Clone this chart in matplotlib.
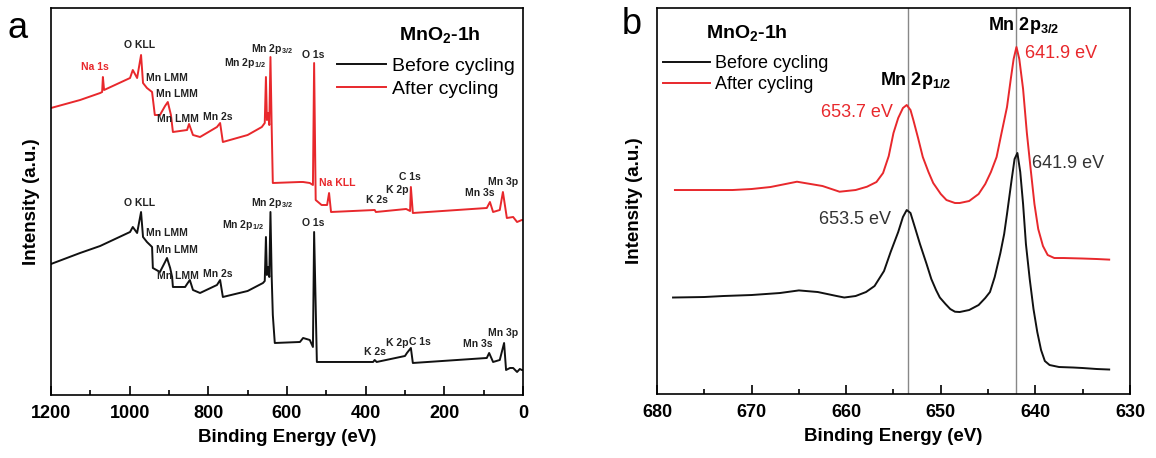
import matplotlib
matplotlib.use('Agg')
import matplotlib.pyplot as plt
from matplotlib.ticker import MultipleLocator

plt.rcParams['font.family'] = ['Liberation Sans', 'DejaVu Sans']
plt.rcParams['mathtext.default'] = 'regular'

RED = '#e8282c'
BLK = '#111111'

# ---- panel a: survey spectra (binding energy eV, intensity a.u.) ----
survey_before_e = [1200, 1126, 1075, 999, 992, 981, 971, 966, 956, 943, 941, 923, 910, 905,
                   897, 892, 890, 859, 854, 847, 839, 821, 778, 770, 763, 700, 661, 656.5,
                   653.5, 651, 648, 645, 642, 639, 636, 631, 567, 559, 542, 534, 531, 524,
                   381, 377, 372, 300, 295, 285, 280, 92, 86, 76, 59, 48, 43, 33, 25, 15, 8, 3, 0]
survey_before_i = [131, 142, 149, 163, 168, 162, 183, 158, 153, 148, 127, 123, 133, 137,
                   127, 118, 108, 108, 111, 115, 105, 102, 110, 115, 98, 104, 112, 114,
                   158, 120, 128, 118, 183, 120, 80, 52, 53, 57, 55, 48, 163, 33,
                   33, 35, 33, 39, 42, 47, 32, 37, 42, 33, 35, 52, 25, 27, 27, 23, 26, 25, 25]

survey_after_e = [1200, 1126, 1075, 1070, 1068, 1065, 999, 992, 981, 971, 966, 956, 943, 936,
                  923, 910, 903, 895, 890, 854, 849, 839, 821, 778, 770, 763, 700, 664, 656.5,
                  653.5, 651, 648, 645, 642, 639, 636, 567, 559, 542, 534, 531, 527, 512,
                  498, 493, 488, 377, 374, 297, 287, 285, 280, 92, 84, 76, 59, 51, 41, 25,
                  15, 3, 0]
survey_after_i = [287, 295, 302, 303, 318, 305, 317, 325, 317, 340, 312, 307, 303, 280,
                  280, 289, 293, 280, 263, 265, 271, 260, 258, 268, 272, 253, 260, 268, 272,
                  318, 275, 282, 270, 338, 270, 212, 213, 213, 212, 210, 332, 195, 190,
                  190, 202, 183, 185, 183, 186, 184, 208, 182, 187, 193, 183, 185, 203, 177, 178,
                  173, 175, 175]

# peak labels of panel a
peak_names = ['O KLL', 'Mn LMM', 'Mn LMM', 'Mn LMM', 'Mn 2s', 'Mn 2p$_{1/2}$', 'Mn 2p$_{3/2}$',
              'O 1s', 'K 2s', 'K 2p', 'C 1s', 'Mn 3s', 'Mn 3p']
before_lab_e = [974, 905, 880, 877, 775, 712, 638, 534, 376, 320, 262, 114, 51]
before_lab_i = [192, 162, 145, 119, 121, 170, 192, 172, 43, 52, 53, 51, 62]
after_lab_e = [974, 905, 880, 877, 775, 707, 638, 534, 371, 320, 287, 109, 51]
after_lab_i = [350, 317, 301, 276, 278, 332, 346, 340, 195, 205, 218, 202, 213]
na_names = ['Na 1s', 'Na KLL']
na_lab_e = [1088, 473]
na_lab_i = [328, 212]

# ---- panel b: Mn 2p high resolution ----
mn_before_e = [678.3, 675, 673, 670, 667, 665, 663, 661, 660.2, 659, 657.9, 657, 656,
               655.3, 654.5, 654, 653.6, 653.2, 652.7, 652.2, 651.5, 651, 650.5, 650.1,
               649.5, 649, 648.5, 648, 647, 646, 645.3, 644.8, 644.3, 643.7, 643.3, 643,
               642.5, 642.2, 641.9, 641.6, 641.3, 641.0, 640.6, 640.2, 639.8, 639.4, 639.0,
               638.5, 637.5, 636, 635, 633.5, 632.2]
mn_before_i = [96.5, 97, 98, 99, 101, 103.6, 102, 98, 96.5, 98, 102, 108, 123,
               142, 162, 177, 184, 181, 165.6, 150, 130, 115, 104, 96.5,
               90, 85, 82.3, 82, 84, 89, 96, 102, 117, 141, 160, 180,
               215, 235, 241, 222, 190, 150, 115, 85, 62, 44, 33,
               29, 27, 26.5, 26, 25, 24.5]

mn_after_e = [678.1, 675, 672, 670, 668, 665.2, 662.5, 660.7, 659, 657.8, 656.8, 656.1,
              655.5, 655, 654.5, 654, 653.6, 653.2, 652.9, 652.4, 651.9, 651.3, 650.8,
              650, 649.4, 648.5, 648, 647, 646, 645.3, 644.7, 644.1, 643.6, 643, 642.6,
              642.3, 642, 641.7, 641.3, 640.9, 640.5, 640.1, 639.7, 639.2, 638.7, 638,
              637, 635, 633.5, 632.2]
mn_after_i = [204, 204, 204, 205, 207, 212.3, 208, 202.3, 204, 207.3, 212, 221,
              238, 261, 276, 286, 289, 284, 274, 256, 237, 222, 211,
              200, 194, 191, 191, 193, 200, 210, 222, 237, 260, 287, 315,
              335, 347, 335, 305, 261, 225, 190, 165, 148, 139, 136,
              136, 135.5, 135, 134.4]
mn_peaks = [653.5, 642.0]

fig = plt.figure(figsize=(11.56, 4.58), dpi=100)
ax1 = fig.add_axes([0.0441, 0.1376, 0.4083, 0.8449])
ax2 = fig.add_axes([0.5683, 0.1397, 0.4092, 0.8428])

ax1.plot(survey_before_e, survey_before_i, color=BLK, lw=1.4, label='Before cycling')
ax1.plot(survey_after_e, survey_after_i, color=RED, lw=1.4, label='After cycling')
for n, e, i in zip(peak_names, before_lab_e, before_lab_i):
    ax1.text(e, i, n, fontsize=7.5, fontweight='bold', color='#222222', ha='center', va='center')
for n, e, i in zip(peak_names, after_lab_e, after_lab_i):
    ax1.text(e, i, n, fontsize=7.5, fontweight='bold', color='#222222', ha='center', va='center')
for n, e, i in zip(na_names, na_lab_e, na_lab_i):
    ax1.text(e, i, n, fontsize=7.5, fontweight='bold', color=RED, ha='center', va='center')

ax1.set_xlim(1200, 0)
ax1.set_ylim(0, 387)
ax1.xaxis.set_major_locator(MultipleLocator(200))
ax1.xaxis.set_minor_locator(MultipleLocator(100))
ax1.text(0.824, 0.930, 'MnO$_2$-1h', transform=ax1.transAxes, fontsize=14,
         fontweight='bold', ha='center', va='center')
ax1.legend(loc='upper left', bbox_to_anchor=(0.606, 0.873), frameon=False, fontsize=14,
           handlelength=2.5, handletextpad=0.35, labelspacing=0.3, borderpad=0,
           borderaxespad=0)

ax2.axvline(mn_peaks[0], color='#888888', lw=1.0, zorder=0)
ax2.axvline(mn_peaks[1], color='#888888', lw=1.0, zorder=0)
ax2.plot(mn_before_e, mn_before_i, color=BLK, lw=1.4, label='Before cycling')
ax2.plot(mn_after_e, mn_after_i, color=RED, lw=1.4, label='After cycling')
ax2.set_xlim(680, 630)
ax2.set_ylim(0, 386)
ax2.xaxis.set_major_locator(MultipleLocator(10))
ax2.xaxis.set_minor_locator(MultipleLocator(5))
ax2.text(652.7, 314, 'Mn 2p$_{1/2}$', fontsize=13, fontweight='bold', ha='center', va='center')
ax2.text(641.2, 369, 'Mn 2p$_{3/2}$', fontsize=13, fontweight='bold', ha='center', va='center')
ax2.text(641.1, 341, '641.9 eV', fontsize=13, color=RED, ha='left', va='center')
ax2.text(655.05, 282, '653.7 eV', fontsize=13, color=RED, ha='right', va='center')
ax2.text(640.4, 231, '641.9 eV', fontsize=13, color='#333333', ha='left', va='center')
ax2.text(655.3, 174.5, '653.5 eV', fontsize=13, color='#333333', ha='right', va='center')
ax2.text(0.19, 0.935, 'MnO$_2$-1h', transform=ax2.transAxes, fontsize=14,
         fontweight='bold', ha='center', va='center')
ax2.legend(loc='upper left', bbox_to_anchor=(0.0127, 0.878), frameon=False, fontsize=13,
           handlelength=2.6, handletextpad=0.28, labelspacing=0.22, borderpad=0,
           borderaxespad=0)

for ax in (ax1, ax2):
    ax.set_yticks([])
    ax.tick_params(axis='x', which='major', direction='in', length=6.5, width=1.2,
                   labelsize=13, pad=7)
    ax.tick_params(axis='x', which='minor', direction='in', length=3.5, width=1.2)
    for lab in ax.get_xticklabels():
        lab.set_fontweight('bold')
    for s in ax.spines.values():
        s.set_linewidth(1.2)
    ax.set_xlabel('Binding Energy (eV)', fontsize=13.5, fontweight='bold', labelpad=5)

ax1.set_ylabel('Intensity (a.u.)', fontsize=13.5, fontweight='bold', labelpad=8)
ax2.set_ylabel('Intensity (a.u.)', fontsize=13.5, fontweight='bold', labelpad=10)

fig.text(18 / 1156, 1 - 28 / 458, 'a', fontsize=26, ha='center', va='center')
fig.text(632 / 1156, 1 - 24 / 458, 'b', fontsize=26, ha='center', va='center')

fig.savefig('out.png', dpi=100)
